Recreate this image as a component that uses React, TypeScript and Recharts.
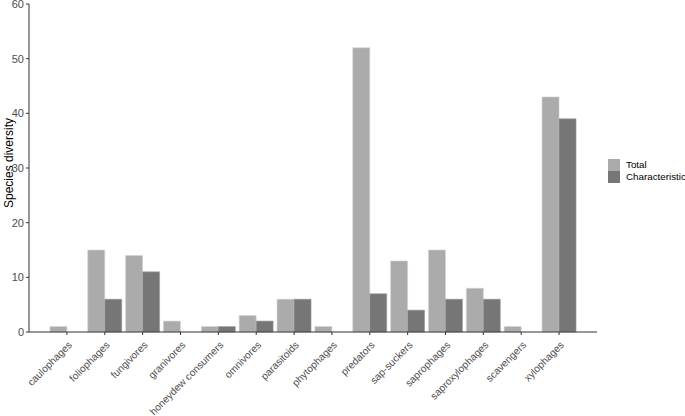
import React from 'react';
import { BarChart, Bar, XAxis, YAxis, Legend } from 'recharts';

const categories = [
  'caulophages', 'foliophages', 'fungivores', 'granivores', 'honeydew consumers',
  'omnivores', 'parasitoids', 'phytophages', 'predators', 'sap-suckers',
  'saprophages', 'saproxylophages', 'scavengers', 'xylophages',
];
const totalValues = [1, 15, 14, 2, 1, 3, 6, 1, 52, 13, 15, 8, 1, 43];
const characteristicValues = [0, 6, 11, 0, 1, 2, 6, 0, 7, 4, 6, 6, 0, 39];
const yTicks = [0, 10, 20, 30, 40, 50, 60];
const seriesNames = ['Total', 'Characteristic'];

const data = categories.map((c, i) => ({
  name: c,
  Total: totalValues[i],
  Characteristic: characteristicValues[i],
}));

const FONT = '"Liberation Sans", Arial, sans-serif';
const TOTAL_COLOR = '#ABABAB';
const CHAR_COLOR = '#767676';
const colors = [TOTAL_COLOR, CHAR_COLOR];

const XTick = (props: any) => {
  const { x, y, payload } = props;
  return (
    <g transform={`translate(${x},${y + 3})`}>
      <text
        x={0}
        y={0}
        dy={8}
        textAnchor="end"
        transform="rotate(-45)"
        fill="#4d4d4d"
        fontSize={10.2}
        fontFamily={FONT}
      >
        {payload.value}
      </text>
    </g>
  );
};

const YLabel = () => (
  <text
    x={13}
    y={163}
    transform="rotate(-90, 13, 163)"
    textAnchor="middle"
    fill="#000"
    fontSize={12}
    fontFamily={FONT}
  >
    Species diversity
  </text>
);

const LegendContent = () => (
  <div style={{ paddingLeft: 11, fontFamily: FONT, fontSize: 9.8, color: '#000' }}>
    {seriesNames.map((label, i) => (
      <div key={label} style={{ display: 'flex', alignItems: 'center', height: 12, whiteSpace: 'nowrap' }}>
        <div style={{ width: 12, height: 12, flexShrink: 0, background: colors[i], marginRight: 6 }} />
        <span style={{ lineHeight: '12px' }}>{label}</span>
      </div>
    ))}
  </div>
);

export default function App() {
  return (
    <div style={{ position: 'absolute', left: 0, top: 0, background: '#fff' }}>
      <BarChart
        width={685}
        height={416}
        data={data}
        margin={{ top: 4, right: 8, bottom: 0, left: 0 }}
        barCategoryGap="5%"
        barGap={0}
      >
        <XAxis
          dataKey="name"
          interval={0}
          padding={{ left: 19, right: 19 }}
          height={84}
          tick={<XTick />}
          tickLine={{ stroke: '#333' }}
          tickSize={3}
          axisLine={{ stroke: '#333', strokeWidth: 1 }}
        />
        <YAxis
          width={29}
          domain={[0, 60]}
          ticks={yTicks}
          interval={0}
          tickSize={3}
          tickLine={{ stroke: '#333' }}
          axisLine={{ stroke: '#333', strokeWidth: 1 }}
          tick={{ fill: '#4d4d4d', fontSize: 11, fontFamily: FONT }}
          label={<YLabel />}
        />
        <Legend
          layout="vertical"
          align="right"
          verticalAlign="middle"
          width={80}
          content={<LegendContent />}
          wrapperStyle={{ top: 159, overflow: 'visible' }}
        />
        <Bar dataKey="Total" fill={TOTAL_COLOR} stroke="#d4d4d4" strokeWidth={0.6} isAnimationActive={false} />
        <Bar dataKey="Characteristic" fill={CHAR_COLOR} stroke="#a0a0a0" strokeWidth={0.6} isAnimationActive={false} />
      </BarChart>
    </div>
  );
}
